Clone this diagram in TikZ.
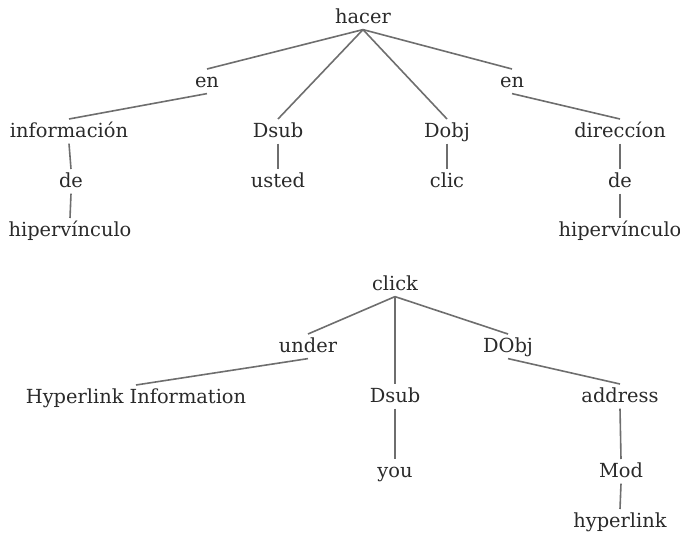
\documentclass[tikz,border=0pt]{standalone}
\usepackage{fontspec}
\setmainfont{DejaVu Serif}
\definecolor{ink}{HTML}{2A2A2A}
\definecolor{edge}{HTML}{6E6E6E}
\begin{document}
\begin{tikzpicture}[x=0.5pt,y=-0.5pt,
  word/.style={anchor=base, inner sep=0pt, outer sep=1.5pt,
    text height=7.5pt, text depth=1.8pt,
    font=\fontsize{9.7}{11}\selectfont, text=ink},
  link/.style={draw=edge, line width=0.8pt}]
\useasboundingbox (0,0) rectangle (680,536);

% Spanish dependency tree
\node[word] (hacer) at (363,23) {hacer};
\node[word] (enL)   at (207,87) {en};
\node[word] (enR)   at (512,87) {en};
\node[word] (info)  at (69,137) {información};
\node[word] (dsubS) at (278,137) {Dsub};
\node[word] (dobjS) at (447,137) {Dobj};
\node[word] (dir)   at (620,137) {direccíon};
\node[word] (deL)   at (71,187) {de};
\node[word] (usted) at (278,187) {usted};
\node[word] (clic)  at (447,187) {clic};
\node[word] (deR)   at (620,187) {de};
\node[word] (hipL)  at (70,236) {hipervínculo};
\node[word] (hipR)  at (620,236) {hipervínculo};

\draw[link] (hacer.south) -- (enL.north);
\draw[link] (hacer.south) -- (dsubS.north);
\draw[link] (hacer.south) -- (dobjS.north);
\draw[link] (hacer.south) -- (enR.north);
\draw[link] (enL.south) -- (info.north);
\draw[link] (enR.south) -- (dir.north);
\draw[link] (info.south) -- (deL.north);
\draw[link] (deL.south) -- (hipL.north);
\draw[link] (dsubS.south) -- (usted.north);
\draw[link] (dobjS.south) -- (clic.north);
\draw[link] (dir.south) -- (deR.north);
\draw[link] (deR.south) -- (hipR.north);

% English dependency tree
\node[word] (click) at (395,290) {click};
\node[word] (under) at (308,352) {under};
\node[word] (dobjE) at (508,352) {DObj};
\node[word] (hinfo) at (136,403) {Hyperlink Information};
\node[word] (dsubE) at (395,402) {Dsub};
\node[word] (addr)  at (620,402) {address};
\node[word] (you)   at (395,477) {you};
\node[word] (mod)   at (621,477) {Mod};
\node[word] (hyp)   at (620,527) {hyperlink};

\draw[link] (click.south) -- (under.north);
\draw[link] (click.south) -- (dsubE.north);
\draw[link] (click.south) -- (dobjE.north);
\draw[link] (under.south) -- (hinfo.north);
\draw[link] (dobjE.south) -- (addr.north);
\draw[link] (dsubE.south) -- (you.north);
\draw[link] (addr.south) -- (mod.north);
\draw[link] (mod.south) -- (hyp.north);
\end{tikzpicture}
\end{document}
